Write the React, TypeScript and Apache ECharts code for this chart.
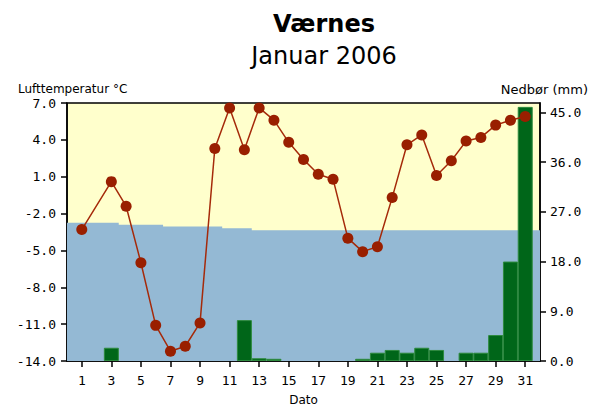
import React, { useEffect, useRef } from "react";
import * as echarts from "echarts";

const days = [1,2,3,4,5,6,7,8,9,10,11,12,13,14,15,16,17,18,19,20,21,22,23,24,25,26,27,28,29,30,31];
const temperature: (number | null)[] = [
  -3.3, null, 0.6, -1.4, -6.0, -11.1, -13.2, -12.8, -10.9, 3.3,
  6.6, 3.2, 6.6, 5.6, 3.8, 2.4, 1.2, 0.8, -4.0, -5.1,
  -4.7, -0.7, 3.6, 4.4, 1.1, 2.3, 3.9, 4.2, 5.2, 5.6, 5.9,
];
const precipitation = [
  0, 0, 2.4, 0, 0, 0, 0, 0, 0, 0,
  0, 7.4, 0.5, 0.4, 0, 0, 0, 0, 0, 0.4,
  1.5, 2.0, 1.5, 2.4, 2.0, 0, 1.5, 1.5, 4.7, 18.0, 46.0,
];
const normalTemp = [
  -2.75, -2.75, -2.75, -2.9, -2.9, -2.9, -3.05, -3.05, -3.05, -3.05,
  -3.2, -3.2, -3.35, -3.35, -3.35, -3.35, -3.35, -3.35, -3.35, -3.35,
  -3.35, -3.35, -3.35, -3.35, -3.35, -3.35, -3.35, -3.35, -3.35, -3.35, -3.35,
];
const tempTicks = [-14, -11, -8, -5, -2, 1, 4, 7];
const precTicks = [0, 9, 18, 27, 36, 45];
const dayTicks = [1, 3, 5, 7, 9, 11, 13, 15, 17, 19, 21, 23, 25, 27, 29, 31];

export default function App() {
  const ref = useRef<HTMLDivElement>(null);
  useEffect(() => {
    if (!ref.current) return;
    const chart = echarts.init(ref.current, null, { renderer: "svg" });
    const mono = "DejaVu Sans Mono";
    const normalData: [number, number][] = [[0, normalTemp[0]]];
    days.forEach((d, i) => normalData.push([d, normalTemp[i]]));
    normalData.push([32, normalTemp[normalTemp.length - 1]]);
    const barData = days
      .map((d, i) => [d, precipitation[i]])
      .filter((p) => p[1] > 0);
    chart.setOption({
      animation: false,
      backgroundColor: "#ffffff",
      grid: {
        left: 67, right: 51, top: 103, bottom: 47,
        outerBoundsMode: "none", containLabel: false,
        show: true, backgroundColor: "#FFFFCC", borderColor: "#000", borderWidth: 1.5,
      },
      graphic: [
        { type: "text", x: 324, y: 24, style: { text: "Værnes", font: "bold 24px 'DejaVu Sans'", fill: "#000", textAlign: "center", textVerticalAlign: "middle" } },
        { type: "text", x: 324, y: 56, style: { text: "Januar 2006", font: "24px 'DejaVu Sans'", fill: "#000", textAlign: "center", textVerticalAlign: "middle" } },
        { type: "text", x: 18, y: 89, style: { text: "Lufttemperatur °C", font: "12px 'DejaVu Sans'", fill: "#000", textAlign: "left", textVerticalAlign: "middle" } },
        { type: "text", x: 588, y: 89, style: { text: "Nedbør (mm)", font: "13px 'DejaVu Sans'", fill: "#000", textAlign: "right", textVerticalAlign: "middle" } },
      ],
      xAxis: {
        type: "value", min: 0, max: 32,
        name: "Dato", nameLocation: "middle", nameGap: 33,
        nameTextStyle: { fontFamily: "DejaVu Sans", fontSize: 12, color: "#000" },
        axisLine: { onZero: false, lineStyle: { color: "#000", width: 1.5 } },
        axisTick: { customValues: dayTicks, length: 6, lineStyle: { color: "#000", width: 1.5 } },
        axisLabel: { customValues: dayTicks, margin: 13, fontFamily: mono, fontSize: 13, color: "#000" },
        splitLine: { show: false },
      },
      yAxis: [
        {
          type: "value", min: -14, max: 7, position: "left",
          axisLine: { show: true, onZero: false, lineStyle: { color: "#000", width: 1.5 } },
          axisTick: { show: true, customValues: tempTicks, length: 6, lineStyle: { color: "#000", width: 1.5 } },
          axisLabel: { customValues: tempTicks, margin: 11, fontFamily: mono, fontSize: 13, color: "#000", formatter: (v: number) => v.toFixed(1) },
          splitLine: { show: false },
        },
        {
          type: "value", min: 0, max: 46.7, position: "right",
          axisLine: { show: true, onZero: false, lineStyle: { color: "#000", width: 1.5 } },
          axisTick: { show: true, customValues: precTicks, length: 6, lineStyle: { color: "#000", width: 1.5 } },
          axisLabel: { customValues: precTicks, margin: 10, fontFamily: mono, fontSize: 13, color: "#000", formatter: (v: number) => v.toFixed(1) },
          splitLine: { show: false },
        },
      ],
      series: [
        {
          name: "Normal", type: "line", yAxisIndex: 0, step: "middle",
          data: normalData, showSymbol: false, symbol: "none",
          lineStyle: { width: 0, color: "#94B9D4" },
          areaStyle: { color: "#94B9D4", opacity: 1, origin: "start" },
          z: 1, silent: true,
        },
        {
          name: "Nedbør", type: "bar", yAxisIndex: 1,
          data: barData,
          barWidth: 15,
          itemStyle: { color: "#006619", borderColor: "#2E8A3E", borderWidth: 1 },
          z: 2,
        },
        {
          name: "Temperatur", type: "line", yAxisIndex: 0,
          data: days.map((d, i) => [d, temperature[i]]),
          connectNulls: true,
          symbol: "circle", symbolSize: 11,
          lineStyle: { color: "#A52A0A", width: 1.5 },
          itemStyle: { color: "#991F00" },
          z: 3,
        },
      ],
    });
    return () => chart.dispose();
  }, []);
  return <div ref={ref} style={{ width: 591, height: 408, position: "absolute", left: 0, top: 0 }} />;
}
